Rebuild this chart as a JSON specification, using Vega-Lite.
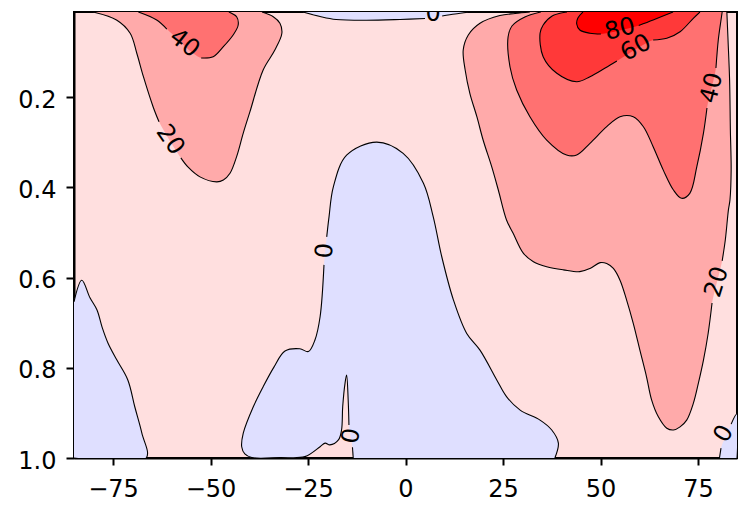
{
"$schema": "https://vega.github.io/schema/vega-lite/v6.json",
"width": 663, "height": 446,
"autosize": {"type": "none"},
"padding": {"left": 74, "top": 12, "right": 2, "bottom": 48},
"background": "white",
"config": {
  "view": {"fill": "#FFDFDF", "stroke": "black", "strokeWidth": 2},
  "axis": {"domainColor": "black", "domainWidth": 2, "tickColor": "black", "tickWidth": 2, "labelColor": "black", "labelFont": "DejaVu Sans", "labelFontSize": 24, "grid": false, "title": null, "labelOverlap": false, "labelFlush": false}
},
"datasets": {
"polys": [
{"poly":"b1","seg":"b1a","band":"n","i":0,"x":-85.0,"y":0.654},
{"poly":"b1","seg":"b1a","band":"n","i":1,"x":-83.0,"y":0.606},
{"poly":"b1","seg":"b1a","band":"n","i":2,"x":-80.9,"y":0.645},
{"poly":"b1","seg":"b1a","band":"n","i":3,"x":-79.1,"y":0.672},
{"poly":"b1","seg":"b1a","band":"n","i":4,"x":-77.8,"y":0.710},
{"poly":"b1","seg":"b1a","band":"n","i":5,"x":-76.3,"y":0.745},
{"poly":"b1","seg":"b1a","band":"n","i":6,"x":-74.0,"y":0.783},
{"poly":"b1","seg":"b1a","band":"n","i":7,"x":-71.2,"y":0.827},
{"poly":"b1","seg":"b1a","band":"n","i":8,"x":-69.4,"y":0.887},
{"poly":"b1","seg":"b1a","band":"n","i":9,"x":-67.6,"y":0.945},
{"poly":"b1","seg":"b1a","band":"n","i":10,"x":-66.5,"y":1.0},
{"poly":"b1","seg":"b1a","band":"n","i":11,"x":-85.0,"y":1.0},

{"poly":"b2","seg":"b2a","band":"n","i":0,"x":38.3,"y":1.0},
{"poly":"b2","seg":"b2a","band":"n","i":1,"x":39.2,"y":0.967},
{"poly":"b2","seg":"b2a","band":"n","i":2,"x":37.5,"y":0.938},
{"poly":"b2","seg":"b2a","band":"n","i":3,"x":34.5,"y":0.916},
{"poly":"b2","seg":"b2a","band":"n","i":4,"x":29.4,"y":0.894},
{"poly":"b2","seg":"b2a","band":"n","i":5,"x":25.9,"y":0.864},
{"poly":"b2","seg":"b2a","band":"n","i":6,"x":23.4,"y":0.827},
{"poly":"b2","seg":"b2a","band":"n","i":7,"x":19.1,"y":0.761},
{"poly":"b2","seg":"b2a","band":"n","i":8,"x":15.7,"y":0.724},
{"poly":"b2","seg":"b2a","band":"n","i":9,"x":12.3,"y":0.650},
{"poly":"b2","seg":"b2a","band":"n","i":10,"x":9.3,"y":0.554},
{"poly":"b2","seg":"b2a","band":"n","i":11,"x":7.1,"y":0.465},
{"poly":"b2","seg":"b2a","band":"n","i":12,"x":4.6,"y":0.391},
{"poly":"b2","seg":"b2a","band":"n","i":13,"x":-0.6,"y":0.325},
{"poly":"b2","seg":"b2a","band":"n","i":14,"x":-7.4,"y":0.300},
{"poly":"b2","seg":"b2a","band":"n","i":15,"x":-15.1,"y":0.329},
{"poly":"b2","seg":"b2a","band":"n","i":16,"x":-18.5,"y":0.399},
{"poly":"b2","seg":"b2a","band":"n","i":17,"x":-19.6,"y":0.465},
{"poly":"b2","seg":"b2a","band":"n","i":18,"x":-20.2,"y":0.510},
{"poly":"b2","seg":"b2b","band":"n","i":19,"x":-20.9,"y":0.572},
{"poly":"b2","seg":"b2b","band":"n","i":20,"x":-21.9,"y":0.687},
{"poly":"b2","seg":"b2b","band":"n","i":21,"x":-23.2,"y":0.738},
{"poly":"b2","seg":"b2b","band":"n","i":22,"x":-24.9,"y":0.764},
{"poly":"b2","seg":"b2b","band":"n","i":23,"x":-27.1,"y":0.758},
{"poly":"b2","seg":"b2b","band":"n","i":24,"x":-30.9,"y":0.763},
{"poly":"b2","seg":"b2b","band":"n","i":25,"x":-33.7,"y":0.798},
{"poly":"b2","seg":"b2b","band":"n","i":26,"x":-36.5,"y":0.842},
{"poly":"b2","seg":"b2b","band":"n","i":27,"x":-39.0,"y":0.886},
{"poly":"b2","seg":"b2b","band":"n","i":28,"x":-41.6,"y":0.945},
{"poly":"b2","seg":"b2b","band":"n","i":29,"x":-42.0,"y":0.975},
{"poly":"b2","seg":"b2b","band":"n","i":30,"x":-41.2,"y":0.991},
{"poly":"b2","seg":"b2b","band":"n","i":31,"x":-39.4,"y":0.999},
{"poly":"b2","seg":"b2b","band":"n","i":32,"x":-32.2,"y":0.999},
{"poly":"b2","seg":"b2b","band":"n","i":33,"x":-25.8,"y":0.997},
{"poly":"b2","seg":"b2b","band":"n","i":34,"x":-21.9,"y":0.975},
{"poly":"b2","seg":"b2b","band":"n","i":35,"x":-20.6,"y":0.967},
{"poly":"b2","seg":"b2b","band":"n","i":36,"x":-19.4,"y":0.971},
{"poly":"b2","seg":"b2b","band":"n","i":37,"x":-17.2,"y":0.960},
{"poly":"b2","seg":"b2b","band":"n","i":38,"x":-16.4,"y":0.938},
{"poly":"b2","seg":"b2b","band":"n","i":39,"x":-16.1,"y":0.886},
{"poly":"b2","seg":"b2b","band":"n","i":40,"x":-15.5,"y":0.834},
{"poly":"b2","seg":"b2b","band":"n","i":41,"x":-15.1,"y":0.816},
{"poly":"b2","seg":"b2b","band":"n","i":42,"x":-14.7,"y":0.871},
{"poly":"b2","seg":"b2b","band":"n","i":43,"x":-14.5,"y":0.927},
{"poly":"b2","seg":"b2c","band":"n","i":44,"x":-13.6,"y":0.976},
{"poly":"b2","seg":"b2c","band":"n","i":45,"x":-13.4,"y":1.0},

{"poly":"b3","seg":"b3a","band":"n","i":0,"x":-26.3,"y":0.0116},
{"poly":"b3","seg":"b3a","band":"n","i":1,"x":-21.9,"y":0.0216},
{"poly":"b3","seg":"b3a","band":"n","i":2,"x":-17.8,"y":0.0282},
{"poly":"b3","seg":"b3a","band":"n","i":3,"x":-10.1,"y":0.0300},
{"poly":"b3","seg":"b3a","band":"n","i":4,"x":-1.4,"y":0.0282},
{"poly":"b3","seg":"b3a","band":"n","i":5,"x":5.0,"y":0.0260},
{"poly":"b3","seg":"b3b","band":"n","i":6,"x":9.4,"y":0.0205},
{"poly":"b3","seg":"b3b","band":"n","i":7,"x":12.7,"y":0.0160},
{"poly":"b3","seg":"b3b","band":"n","i":8,"x":15.5,"y":0.0127},
{"poly":"b3","seg":"b3b","band":"n","i":9,"x":16.0,"y":0.0116},

{"poly":"b4","seg":"b4a","band":"n","i":0,"x":80.5,"y":1.0},
{"poly":"b4","seg":"b4a","band":"n","i":1,"x":80.9,"y":0.978},
{"poly":"b4","seg":"b4b","band":"n","i":2,"x":83.5,"y":0.925},
{"poly":"b4","seg":"b4b","band":"n","i":3,"x":85.0,"y":0.902},
{"poly":"b4","seg":"b4b","band":"n","i":4,"x":85.0,"y":1.0},

{"poly":"r1","seg":"r1a","band":"p20","i":0,"x":-80.1,"y":0.0116},
{"poly":"r1","seg":"r1a","band":"p20","i":1,"x":-74.1,"y":0.0293},
{"poly":"r1","seg":"r1a","band":"p20","i":2,"x":-70.6,"y":0.0588},
{"poly":"r1","seg":"r1a","band":"p20","i":3,"x":-68.9,"y":0.103},
{"poly":"r1","seg":"r1a","band":"p20","i":4,"x":-67.2,"y":0.155},
{"poly":"r1","seg":"r1a","band":"p20","i":5,"x":-64.7,"y":0.222},
{"poly":"r1","seg":"r1a","band":"p20","i":6,"x":-63.2,"y":0.255},
{"poly":"r1","seg":"r1b","band":"p20","i":7,"x":-57.6,"y":0.335},
{"poly":"r1","seg":"r1b","band":"p20","i":8,"x":-55.8,"y":0.355},
{"poly":"r1","seg":"r1b","band":"p20","i":9,"x":-52.7,"y":0.377},
{"poly":"r1","seg":"r1b","band":"p20","i":10,"x":-48.4,"y":0.388},
{"poly":"r1","seg":"r1b","band":"p20","i":11,"x":-46.7,"y":0.384},
{"poly":"r1","seg":"r1b","band":"p20","i":12,"x":-45.0,"y":0.369},
{"poly":"r1","seg":"r1b","band":"p20","i":13,"x":-43.3,"y":0.332},
{"poly":"r1","seg":"r1b","band":"p20","i":14,"x":-41.6,"y":0.280},
{"poly":"r1","seg":"r1b","band":"p20","i":15,"x":-39.9,"y":0.233},
{"poly":"r1","seg":"r1b","band":"p20","i":16,"x":-36.5,"y":0.140},
{"poly":"r1","seg":"r1b","band":"p20","i":17,"x":-33.5,"y":0.096},
{"poly":"r1","seg":"r1b","band":"p20","i":18,"x":-31.7,"y":0.0588},
{"poly":"r1","seg":"r1b","band":"p20","i":19,"x":-32.2,"y":0.0366},
{"poly":"r1","seg":"r1b","band":"p20","i":20,"x":-33.9,"y":0.0220},
{"poly":"r1","seg":"r1b","band":"p20","i":21,"x":-36.8,"y":0.0116},

{"poly":"r2","seg":"r2a","band":"p40","i":0,"x":-68.5,"y":0.0116},
{"poly":"r2","seg":"r2a","band":"p40","i":1,"x":-63.8,"y":0.0293},
{"poly":"r2","seg":"r2a","band":"p40","i":2,"x":-61.2,"y":0.0493},
{"poly":"r2","seg":"r2b","band":"p40","i":3,"x":-52.4,"y":0.1135},
{"poly":"r2","seg":"r2b","band":"p40","i":4,"x":-49.3,"y":0.1107},
{"poly":"r2","seg":"r2b","band":"p40","i":5,"x":-46.7,"y":0.0885},
{"poly":"r2","seg":"r2b","band":"p40","i":6,"x":-44.2,"y":0.0626},
{"poly":"r2","seg":"r2b","band":"p40","i":7,"x":-42.9,"y":0.0404},
{"poly":"r2","seg":"r2b","band":"p40","i":8,"x":-43.3,"y":0.0220},
{"poly":"r2","seg":"r2b","band":"p40","i":9,"x":-45.0,"y":0.0127},
{"poly":"r2","seg":"r2b","band":"p40","i":10,"x":-45.3,"y":0.0116},

{"poly":"r3","seg":"r3a","band":"p20","i":0,"x":31.9,"y":0.0116},
{"poly":"r3","seg":"r3a","band":"p20","i":1,"x":28.1,"y":0.0149},
{"poly":"r3","seg":"r3a","band":"p20","i":2,"x":24.2,"y":0.0194},
{"poly":"r3","seg":"r3a","band":"p20","i":3,"x":19.1,"y":0.0366},
{"poly":"r3","seg":"r3a","band":"p20","i":4,"x":16.1,"y":0.0626},
{"poly":"r3","seg":"r3a","band":"p20","i":5,"x":14.8,"y":0.0958},
{"poly":"r3","seg":"r3a","band":"p20","i":6,"x":15.3,"y":0.1401},
{"poly":"r3","seg":"r3a","band":"p20","i":7,"x":16.5,"y":0.1918},
{"poly":"r3","seg":"r3a","band":"p20","i":8,"x":18.3,"y":0.2436},
{"poly":"r3","seg":"r3a","band":"p20","i":9,"x":19.9,"y":0.2953},
{"poly":"r3","seg":"r3a","band":"p20","i":10,"x":22.1,"y":0.3544},
{"poly":"r3","seg":"r3a","band":"p20","i":11,"x":23.8,"y":0.4061},
{"poly":"r3","seg":"r3a","band":"p20","i":12,"x":25.9,"y":0.4725},
{"poly":"r3","seg":"r3a","band":"p20","i":13,"x":27.6,"y":0.502},
{"poly":"r3","seg":"r3a","band":"p20","i":14,"x":30.2,"y":0.546},
{"poly":"r3","seg":"r3a","band":"p20","i":15,"x":32.8,"y":0.565},
{"poly":"r3","seg":"r3a","band":"p20","i":16,"x":36.2,"y":0.576},
{"poly":"r3","seg":"r3a","band":"p20","i":17,"x":40.5,"y":0.583},
{"poly":"r3","seg":"r3a","band":"p20","i":18,"x":44.7,"y":0.587},
{"poly":"r3","seg":"r3a","band":"p20","i":19,"x":47.3,"y":0.580},
{"poly":"r3","seg":"r3a","band":"p20","i":20,"x":49.9,"y":0.567},
{"poly":"r3","seg":"r3a","band":"p20","i":21,"x":51.6,"y":0.569},
{"poly":"r3","seg":"r3a","band":"p20","i":22,"x":53.3,"y":0.580},
{"poly":"r3","seg":"r3a","band":"p20","i":23,"x":55.0,"y":0.606},
{"poly":"r3","seg":"r3a","band":"p20","i":24,"x":56.7,"y":0.650},
{"poly":"r3","seg":"r3a","band":"p20","i":25,"x":58.4,"y":0.7015},
{"poly":"r3","seg":"r3a","band":"p20","i":26,"x":60.1,"y":0.761},
{"poly":"r3","seg":"r3a","band":"p20","i":27,"x":61.8,"y":0.820},
{"poly":"r3","seg":"r3a","band":"p20","i":28,"x":63.1,"y":0.871},
{"poly":"r3","seg":"r3a","band":"p20","i":29,"x":64.8,"y":0.908},
{"poly":"r3","seg":"r3a","band":"p20","i":30,"x":67.0,"y":0.934},
{"poly":"r3","seg":"r3a","band":"p20","i":31,"x":68.7,"y":0.938},
{"poly":"r3","seg":"r3a","band":"p20","i":32,"x":70.4,"y":0.931},
{"poly":"r3","seg":"r3a","band":"p20","i":33,"x":72.1,"y":0.916},
{"poly":"r3","seg":"r3a","band":"p20","i":34,"x":73.8,"y":0.879},
{"poly":"r3","seg":"r3a","band":"p20","i":35,"x":75.1,"y":0.834},
{"poly":"r3","seg":"r3a","band":"p20","i":36,"x":76.4,"y":0.783},
{"poly":"r3","seg":"r3a","band":"p20","i":37,"x":77.6,"y":0.724},
{"poly":"r3","seg":"r3a","band":"p20","i":38,"x":78.6,"y":0.6565},
{"poly":"r3","seg":"r3b","band":"p20","i":39,"x":81.2,"y":0.563},
{"poly":"r3","seg":"r3b","band":"p20","i":40,"x":82.0,"y":0.517},
{"poly":"r3","seg":"r3b","band":"p20","i":41,"x":82.8,"y":0.450},
{"poly":"r3","seg":"r3b","band":"p20","i":42,"x":83.2,"y":0.428},
{"poly":"r3","seg":"r3b","band":"p20","i":43,"x":83.5,"y":0.362},
{"poly":"r3","seg":"r3b","band":"p20","i":44,"x":83.3,"y":0.273},
{"poly":"r3","seg":"r3b","band":"p20","i":45,"x":83.1,"y":0.162},
{"poly":"r3","seg":"r3b","band":"p20","i":46,"x":82.7,"y":0.0737},
{"poly":"r3","seg":"r3b","band":"p20","i":47,"x":82.4,"y":0.0116},

{"poly":"r4","seg":"r4a","band":"p40","i":0,"x":34.7,"y":0.0116},
{"poly":"r4","seg":"r4a","band":"p40","i":1,"x":30.6,"y":0.0227},
{"poly":"r4","seg":"r4a","band":"p40","i":2,"x":27.3,"y":0.0426},
{"poly":"r4","seg":"r4a","band":"p40","i":3,"x":26.3,"y":0.0670},
{"poly":"r4","seg":"r4a","band":"p40","i":4,"x":26.8,"y":0.1335},
{"poly":"r4","seg":"r4a","band":"p40","i":5,"x":28.5,"y":0.1845},
{"poly":"r4","seg":"r4a","band":"p40","i":6,"x":31.9,"y":0.2436},
{"poly":"r4","seg":"r4a","band":"p40","i":7,"x":36.2,"y":0.2953},
{"poly":"r4","seg":"r4a","band":"p40","i":8,"x":41.3,"y":0.3285},
{"poly":"r4","seg":"r4a","band":"p40","i":9,"x":43.9,"y":0.3285},
{"poly":"r4","seg":"r4a","band":"p40","i":10,"x":47.3,"y":0.3026},
{"poly":"r4","seg":"r4a","band":"p40","i":11,"x":51.6,"y":0.2658},
{"poly":"r4","seg":"r4a","band":"p40","i":12,"x":55.0,"y":0.2436},
{"poly":"r4","seg":"r4a","band":"p40","i":13,"x":58.4,"y":0.2436},
{"poly":"r4","seg":"r4a","band":"p40","i":14,"x":61.0,"y":0.2658},
{"poly":"r4","seg":"r4a","band":"p40","i":15,"x":63.5,"y":0.3101},
{"poly":"r4","seg":"r4a","band":"p40","i":16,"x":66.1,"y":0.362},
{"poly":"r4","seg":"r4a","band":"p40","i":17,"x":68.7,"y":0.4061},
{"poly":"r4","seg":"r4a","band":"p40","i":18,"x":70.8,"y":0.4245},
{"poly":"r4","seg":"r4a","band":"p40","i":19,"x":72.9,"y":0.4134},
{"poly":"r4","seg":"r4a","band":"p40","i":20,"x":74.7,"y":0.3544},
{"poly":"r4","seg":"r4a","band":"p40","i":21,"x":76.4,"y":0.280},
{"poly":"r4","seg":"r4a","band":"p40","i":22,"x":77.3,"y":0.2243},
{"poly":"r4","seg":"r4b","band":"p40","i":23,"x":79.6,"y":0.1357},
{"poly":"r4","seg":"r4b","band":"p40","i":24,"x":80.2,"y":0.0737},
{"poly":"r4","seg":"r4b","band":"p40","i":25,"x":80.9,"y":0.0293},
{"poly":"r4","seg":"r4b","band":"p40","i":26,"x":81.2,"y":0.0116},

{"poly":"r5","seg":"r5a","band":"p60","i":0,"x":41.4,"y":0.0116},
{"poly":"r5","seg":"r5a","band":"p60","i":1,"x":37.6,"y":0.0205},
{"poly":"r5","seg":"r5a","band":"p60","i":2,"x":35.3,"y":0.0404},
{"poly":"r5","seg":"r5a","band":"p60","i":3,"x":34.5,"y":0.0588},
{"poly":"r5","seg":"r5a","band":"p60","i":4,"x":35.3,"y":0.1107},
{"poly":"r5","seg":"r5a","band":"p60","i":5,"x":38.8,"y":0.1474},
{"poly":"r5","seg":"r5a","band":"p60","i":6,"x":43.9,"y":0.1661},
{"poly":"r5","seg":"r5a","band":"p60","i":7,"x":47.3,"y":0.155},
{"poly":"r5","seg":"r5a","band":"p60","i":8,"x":51.2,"y":0.1357},
{"poly":"r5","seg":"r5a","band":"p60","i":9,"x":54.2,"y":0.1202},
{"poly":"r5","seg":"r5b","band":"p60","i":10,"x":63.5,"y":0.0737},
{"poly":"r5","seg":"r5b","band":"p60","i":11,"x":67.0,"y":0.0699},
{"poly":"r5","seg":"r5b","band":"p60","i":12,"x":70.4,"y":0.0553},
{"poly":"r5","seg":"r5b","band":"p60","i":13,"x":73.8,"y":0.0256},
{"poly":"r5","seg":"r5b","band":"p60","i":14,"x":75.5,"y":0.0116},

{"poly":"r6","seg":"r6a","band":"p80","i":0,"x":45.5,"y":0.0116},
{"poly":"r6","seg":"r6a","band":"p80","i":1,"x":44.2,"y":0.0249},
{"poly":"r6","seg":"r6a","band":"p80","i":2,"x":43.9,"y":0.0382},
{"poly":"r6","seg":"r6a","band":"p80","i":3,"x":44.7,"y":0.0515},
{"poly":"r6","seg":"r6a","band":"p80","i":4,"x":47.3,"y":0.0588},
{"poly":"r6","seg":"r6a","band":"p80","i":5,"x":50.1,"y":0.0604},
{"poly":"r6","seg":"r6b","band":"p80","i":6,"x":59.8,"y":0.0415},
{"poly":"r6","seg":"r6b","band":"p80","i":7,"x":63.5,"y":0.0293},
{"poly":"r6","seg":"r6b","band":"p80","i":8,"x":68.6,"y":0.0116}
],
"labels": [
{"t":"20","x":-60.4,"y":0.2953,"a":55},
{"t":"40","x":-56.7,"y":0.0814,"a":38},
{"t":"0","x":7.1,"y":0.0160,"a":0},
{"t":"0","x":-20.6,"y":0.541,"a":-85},
{"t":"0","x":-13.8,"y":0.951,"a":-80},
{"t":"80","x":55.0,"y":0.0504,"a":-14},
{"t":"60","x":59.1,"y":0.0914,"a":-29},
{"t":"40","x":78.6,"y":0.180,"a":-76},
{"t":"20","x":79.9,"y":0.610,"a":-73},
{"t":"0","x":81.7,"y":0.9468,"a":-60}
]
},
"encoding": {
  "x": {"field": "x", "type": "quantitative", "scale": {"domain": [-85, 85], "nice": false, "zero": false}, "axis": {"values": [-75, -50, -25, 0, 25, 50, 75], "tickSize": 7, "labelPadding": 12}},
  "y": {"field": "y", "type": "quantitative", "scale": {"domain": [0.0116, 1], "nice": false, "zero": false, "reverse": true}, "axis": {"values": [0.2, 0.4, 0.6, 0.8, 1.0], "format": ".1f", "tickSize": 8, "labelPadding": 10, "labelOffset": 3}}
},
"layer": [
  {"data": {"name": "polys"}, "transform": [{"filter": "datum.band == 'n'"}], "mark": {"type": "line", "fill": "#DFDFFF", "strokeOpacity": 0, "interpolate": "catmull-rom", "clip": true}, "encoding": {"detail": {"field": "poly"}, "order": {"field": "i", "type": "quantitative"}}},
  {"data": {"name": "polys"}, "transform": [{"filter": "datum.band == 'p20'"}], "mark": {"type": "line", "fill": "#FFAAAA", "strokeOpacity": 0, "interpolate": "catmull-rom", "clip": true}, "encoding": {"detail": {"field": "poly"}, "order": {"field": "i", "type": "quantitative"}}},
  {"data": {"name": "polys"}, "transform": [{"filter": "datum.band == 'p40'"}], "mark": {"type": "line", "fill": "#FF7171", "strokeOpacity": 0, "interpolate": "catmull-rom", "clip": true}, "encoding": {"detail": {"field": "poly"}, "order": {"field": "i", "type": "quantitative"}}},
  {"data": {"name": "polys"}, "transform": [{"filter": "datum.band == 'p60'"}], "mark": {"type": "line", "fill": "#FF3939", "strokeOpacity": 0, "interpolate": "catmull-rom", "clip": true}, "encoding": {"detail": {"field": "poly"}, "order": {"field": "i", "type": "quantitative"}}},
  {"data": {"name": "polys"}, "transform": [{"filter": "datum.band == 'p80'"}], "mark": {"type": "line", "fill": "#FF0000", "strokeOpacity": 0, "interpolate": "catmull-rom", "clip": true}, "encoding": {"detail": {"field": "poly"}, "order": {"field": "i", "type": "quantitative"}}},
  {"data": {"name": "polys"}, "mark": {"type": "line", "stroke": "black", "strokeWidth": 1.1, "interpolate": "catmull-rom", "clip": true}, "encoding": {"detail": {"field": "seg"}, "order": {"field": "i", "type": "quantitative"}}},
  {"data": {"name": "labels"}, "mark": {"type": "text", "font": "DejaVu Sans", "fontSize": 24, "align": "center", "baseline": "middle", "color": "black", "clip": true}, "encoding": {"text": {"field": "t"}, "angle": {"field": "a", "type": "quantitative", "scale": null}}}
]
}
